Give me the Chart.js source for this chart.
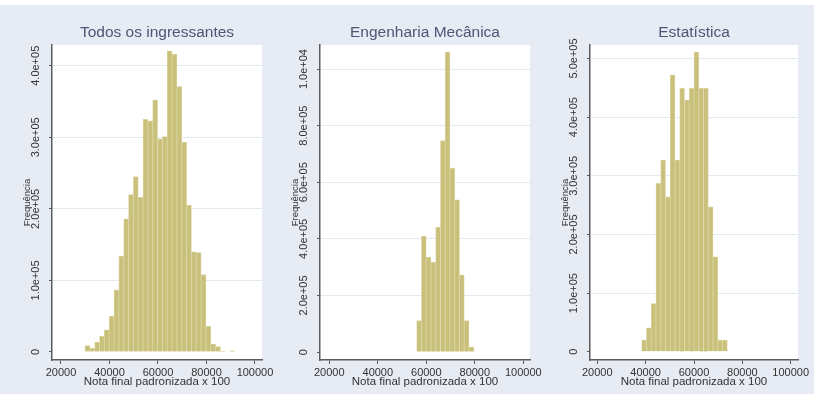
<!DOCTYPE html>
<html lang="pt-br">
<head>
    <meta charset="UTF-8">
    <title>Histogramas - Nota final padronizada</title>
    <script src="https://cdn.jsdelivr.net/npm/chart.js"></script>
    <style>
        body {
            margin: 0;
            width: 814px;
            height: 394px;
            background: #ffffff;
            position: relative;
            overflow: hidden;
        }
        .fundo {
            position: absolute;
            left: 0;
            top: 5px;
            width: 814px;
            height: 389px;
            background: #e7ebf3;
        }
        canvas {
            position: absolute;
            top: 0;
        }
    </style>
</head>
<body>
    <div class="fundo"></div>
    <canvas id="painel1" width="285" height="394" style="left:0px"></canvas>
    <canvas id="painel2" width="285" height="394" style="left:268px"></canvas>
    <canvas id="painel3" width="276" height="394" style="left:538px"></canvas>

    <script>
        // Eixo x comum (nota final padronizada x 100)
        const ticksX = [20000, 40000, 60000, 80000, 100000];
        const rotulosX = ['20000', '40000', '60000', '80000', '100000'];

        // Todos os ingressantes - centros das classes e alturas
        const centros1 = [30900, 32895, 34890, 36885, 38880, 40875, 42870, 44865, 46860, 48855,
                          50850, 52845, 54840, 56835, 58830, 60825, 62820, 64815, 66810, 68805,
                          70800, 72795, 74790, 76785, 78780, 80775, 82770, 84765, 86760, 88755, 90750];
        const freq1 = [0.09, 0.05, 0.14, 0.22, 0.31, 0.50, 0.87, 1.34, 1.86, 2.20,
                       2.45, 2.16, 3.25, 3.23, 3.52, 2.98, 3.01, 4.21, 4.16, 3.71,
                       2.93, 2.05, 1.40, 1.39, 1.08, 0.36, 0.11, 0.075, 0.01, 0, 0.015];
        const ticksY1 = [0, 1, 2, 3, 4];
        const rotulosY1 = ['0', '1.0e+05', '2.0e+05', '3.0e+05', '4.0e+05'];

        // Engenharia Mecânica
        const centros2 = [57020, 58980, 60940, 62900, 64860, 66820, 68780, 70740, 72700, 74660, 76620, 78580];
        const freq2 = [1.11, 4.10, 3.35, 3.18, 4.41, 7.47, 10.6, 6.49, 5.38, 2.73, 1.11, 0.18];
        const ticksY2 = [0, 2, 4, 6, 8, 10];
        const rotulosY2 = ['0', '2.0e+05', '4.0e+05', '6.0e+05', '8.0e+05', '1.0e+04'];

        // Estatística
        const centros3 = [39350, 41317, 43284, 45251, 47218, 49185, 51152, 53119, 55086,
                          57053, 59020, 60987, 62954, 64921, 66888, 68855, 70822, 72789];
        const freq3 = [0.20, 0.41, 0.82, 2.87, 3.27, 2.64, 4.72, 3.27, 4.49,
                       4.29, 4.49, 5.11, 4.49, 4.49, 2.47, 1.62, 0.20, 0.20];
        const ticksY3 = [0, 1, 2, 3, 4, 5];
        const rotulosY3 = ['0', '1.0e+05', '2.0e+05', '3.0e+05', '4.0e+05', '5.0e+05'];

        Chart.defaults.font.family = '"Liberation Sans", Arial, sans-serif';

        // fundo branco só na área do gráfico
        const areaBranca = {
            id: 'areaBranca',
            beforeDraw(chart) {
                const a = chart.chartArea;
                const ctx = chart.ctx;
                ctx.save();
                ctx.fillStyle = '#ffffff';
                ctx.fillRect(a.left, a.top, a.right - a.left, a.bottom - a.top);
                ctx.restore();
            }
        };

        function desenharPainel(id, titulo, centros, freq, ticksY, rotulosY, eixo) {
            const ctx = document.getElementById(id).getContext('2d');
            return new Chart(ctx, {
                type: 'bar',
                data: {
                    datasets: [{
                        data: centros.map((c, i) => ({ x: c, y: freq[i] })),
                        backgroundColor: '#c9c07b',
                        borderColor: '#dbd5a2',
                        borderWidth: 0.8,
                        barPercentage: 1,
                        categoryPercentage: 1
                    }]
                },
                options: {
                    responsive: false,
                    animation: false,
                    events: [],
                    layout: { padding: { left: 0, right: eixo.direita, top: 0, bottom: 0 } },
                    plugins: {
                        legend: { display: false },
                        tooltip: { enabled: false },
                        title: {
                            display: true,
                            fullSize: false,
                            text: titulo,
                            color: '#4d5775',
                            font: { size: 15.5, weight: 'normal' },
                            padding: { top: 23.7, bottom: 2.7 }
                        }
                    },
                    scales: {
                        x: {
                            type: 'linear',
                            offset: false,
                            min: eixo.xMin,
                            max: eixo.xMax,
                            afterBuildTicks: s => { s.ticks = ticksX.map(v => ({ value: v })); },
                            afterFit: s => { s.height = 34; },
                            border: { color: '#5c5c5c', width: 1.5 },
                            grid: { offset: false, drawOnChartArea: false, tickLength: 4, tickColor: '#5c5c5c' },
                            ticks: {
                                autoSkip: false,
                                maxRotation: 0,
                                padding: 2,
                                color: '#333333',
                                font: { size: 11 },
                                callback: (v, i) => rotulosX[i]
                            },
                            title: {
                                display: true,
                                text: 'Nota final padronizada x 100',
                                color: '#333333',
                                font: { size: 11.5 },
                                padding: { top: 0, bottom: 5.4 }
                            }
                        },
                        y: {
                            min: eixo.yMin,
                            max: eixo.yMax,
                            afterBuildTicks: s => { s.ticks = ticksY.map(v => ({ value: v })); },
                            afterFit: s => { s.width = 52; },
                            border: { color: '#5c5c5c', width: 1.5 },
                            grid: {
                                color: c => (c.tick && c.tick.value === 0) ? 'rgba(0,0,0,0)' : '#e3e8f1',
                                tickLength: 3,
                                tickColor: '#5c5c5c'
                            },
                            ticks: {
                                minRotation: 90,
                                maxRotation: 90,
                                crossAlign: 'center',
                                padding: -7.5,
                                color: '#333333',
                                font: { size: 11 },
                                callback: (v, i) => rotulosY[i]
                            },
                            title: {
                                display: true,
                                text: 'Frequência',
                                color: '#333333',
                                font: { size: 9.5 },
                                padding: { top: 21.3, bottom: 0 }
                            }
                        }
                    }
                },
                plugins: [areaBranca]
            });
        }

        desenharPainel('painel1', 'Todos os ingressantes', centros1, freq1, ticksY1, rotulosY1,
            { xMin: 16290, xMax: 102890, yMin: -0.112, yMax: 4.29, direita: 23 });
        desenharPainel('painel2', 'Engenharia Mecânica', centros2, freq2, ticksY2, rotulosY2,
            { xMin: 16165, xMax: 102760, yMin: -0.28, yMax: 10.85, direita: 23 });
        desenharPainel('painel3', 'Estatística', centros3, freq3, ticksY3, rotulosY3,
            { xMin: 16980, xMax: 103020, yMin: -0.14, yMax: 5.23, direita: 16 });
    </script>
</body>
</html>
